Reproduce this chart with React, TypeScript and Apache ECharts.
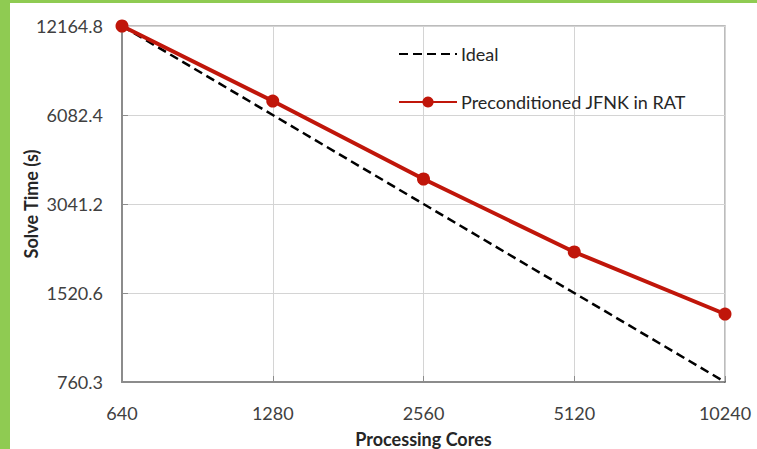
import React, { useEffect, useRef } from "react";
import * as echarts from "echarts";

const cores = ["640", "1280", "2560", "5120", "10240"];
const yTicks = [760.3, 1520.6, 3041.2, 6082.4, 12164.8];
const idealTimes = [12164.8, 6082.4, 3041.2, 1520.6, 760.3];
const jfnkTimes = [12164.8, 6780, 3695, 2093, 1291];

const FONT = "Lato, 'Open Sans', sans-serif";

export default function App() {
  const ref = useRef<HTMLDivElement>(null);
  useEffect(() => {
    if (!ref.current) return;
    const chart = echarts.init(ref.current, null, { renderer: "svg" });
    chart.setOption({
      animation: false,
      backgroundColor: "#ffffff",
      textStyle: { fontFamily: FONT },
      graphic: [
        { type: "rect", left: 0, top: 0, shape: { width: 10, height: 449 }, style: { fill: "#8fcb52" }, silent: true },
        { type: "rect", left: 0, top: 0, shape: { width: 757, height: 3 }, style: { fill: "#8fcb52" }, silent: true },
      ],
      grid: {
        left: 122,
        top: 26,
        right: 32,
        bottom: 67,
        containLabel: false,
        outerBoundsMode: "none",
        show: true,
        borderColor: "#a6a6a6",
        borderWidth: 1.5,
      },
      legend: {
        orient: "vertical",
        left: 398,
        top: 45,
        padding: 0,
        itemWidth: 58,
        itemHeight: 14,
        itemGap: 30,
        textStyle: { fontFamily: FONT, fontSize: 18, color: "#262626", padding: [0, 0, 0, -1] },
        data: [
          { name: "Ideal", itemStyle: { opacity: 0 } },
          { name: "Preconditioned JFNK in RAT" },
        ],
      },
      xAxis: {
        type: "category",
        data: cores,
        boundaryGap: false,
        name: "Processing Cores",
        nameLocation: "middle",
        nameGap: 48,
        nameMoveOverlap: false,
        nameTextStyle: { fontFamily: FONT, fontSize: 18, fontWeight: "bold", color: "#262626" },
        axisLine: { lineStyle: { color: "#8c8c8c", width: 2 } },
        axisTick: { inside: true, length: 6, lineStyle: { color: "#8c8c8c" } },
        axisLabel: { fontFamily: FONT, fontSize: 18, color: "#404040", margin: 22 },
        splitLine: { show: true, lineStyle: { color: "#d4d4d4", width: 1 } },
      },
      yAxis: {
        type: "log",
        logBase: 2,
        min: 760.3,
        max: 12164.8,
        name: "Solve Time (s)",
        nameLocation: "middle",
        nameGap: 82,
        nameMoveOverlap: false,
        nameTextStyle: { fontFamily: FONT, fontSize: 18, fontWeight: "bold", color: "#262626" },
        axisLine: { show: true, lineStyle: { color: "#8c8c8c", width: 2 } },
        axisTick: { show: true, inside: true, length: 6, customValues: yTicks, lineStyle: { color: "#8c8c8c" } },
        axisLabel: {
          fontFamily: FONT,
          fontSize: 18,
          color: "#404040",
          margin: 19,
          customValues: yTicks,
          formatter: (v: number) => v.toFixed(1),
        },
        splitLine: { show: true, lineStyle: { color: "#d4d4d4", width: 1 } },
      },
      series: [
        {
          name: "Ideal",
          type: "line",
          data: idealTimes,
          symbol: "none",
          lineStyle: { color: "#000000", width: 2.5, type: [9, 5] },
          itemStyle: { color: "#000000" },
          z: 2,
        },
        {
          name: "Preconditioned JFNK in RAT",
          type: "line",
          data: jfnkTimes,
          symbol: "circle",
          symbolSize: 13,
          lineStyle: { color: "#c0160a", width: 4 },
          itemStyle: { color: "#c0160a" },
          z: 3,
        },
      ],
    });
    return () => chart.dispose();
  }, []);
  return (
    <div
      ref={ref}
      style={{ position: "absolute", left: 0, top: 0, width: 757, height: 449 }}
    />
  );
}
